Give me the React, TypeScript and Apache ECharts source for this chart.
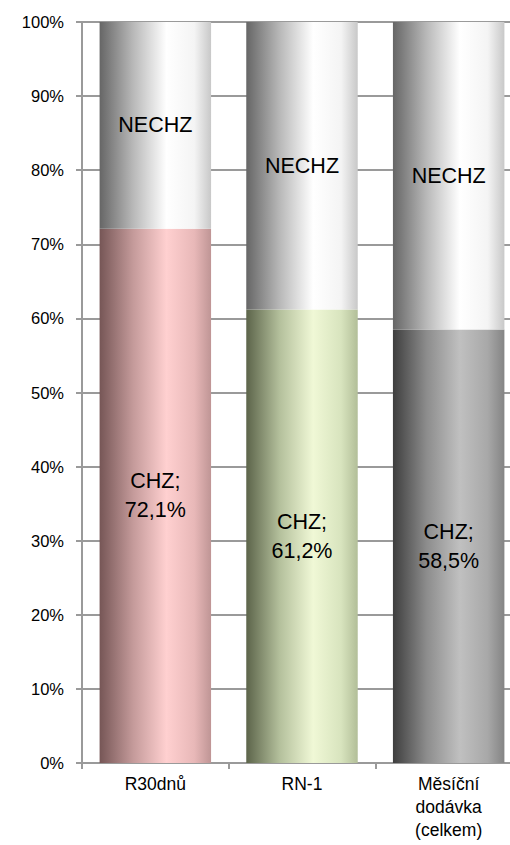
import React, { useEffect, useRef } from "react";
import * as echarts from "echarts";

const categories = ["R30dnů", "RN-1", "Měsíční\ndodávka\n(celkem)"];
const chzValues = [72.1, 61.2, 58.5];
const nechzValues = [27.9, 38.8, 41.5];
const yTicks = { min: 0, max: 100, interval: 10 };

const chzStops = [
  ["#765656", "#c49a9a", "#ffd0d0", "#e8b8b8", "#bf9595"],
  ["#5c644a", "#b4c09c", "#f0f8d6", "#d8e4be", "#b2be98"],
  ["#3e3e3e", "#8c8c8c", "#c0c0c0", "#a8a8a8", "#848484"],
];
const nechzStops = ["#666666", "#b8b8b8", "#ffffff", "#f4f4f4", "#c8c8c8"];

function grad(cols: string[]) {
  const offs = [0, 0.3, 0.6, 0.85, 1];
  return new echarts.graphic.LinearGradient(
    0, 0, 1, 0,
    cols.map((c, i) => ({ offset: offs[i], color: c }))
  );
}

const font = "'Liberation Sans', Arial, sans-serif";

export default function App() {
  const ref = useRef<HTMLDivElement>(null);
  useEffect(() => {
    if (!ref.current) return;
    const chart = echarts.init(ref.current, null, { renderer: "svg" });
    chart.setOption({
      animation: false,
      grid: { left: 82, right: 0, top: 22, bottom: 82 },
      xAxis: {
        type: "category",
        data: categories,
        axisLine: { show: true, lineStyle: { color: "#9a9a9a", width: 2 } },
        axisTick: { show: true, length: 6, lineStyle: { color: "#9a9a9a", width: 2 } },
        axisLabel: {
          color: "#000",
          fontFamily: font,
          fontSize: 17.5,
          lineHeight: 23,
          margin: 9,
        },
      },
      yAxis: {
        type: "value",
        min: yTicks.min,
        max: yTicks.max,
        interval: yTicks.interval,
        axisLine: { show: true, lineStyle: { color: "#9a9a9a", width: 2 } },
        axisTick: { show: true, length: 6, lineStyle: { color: "#9a9a9a", width: 2 } },
        splitLine: { show: true, lineStyle: { color: "#9a9a9a", width: 2 } },
        axisLabel: {
          color: "#000",
          fontFamily: font,
          fontSize: 16.5,
          margin: 18,
          formatter: "{value}%",
        },
      },
      series: [
        {
          name: "CHZ",
          type: "bar",
          stack: "total",
          barWidth: "76%",
          data: chzValues.map((v, i) => ({
            value: v,
            itemStyle: { color: grad(chzStops[i]) },
          })),
          label: {
            show: true,
            position: "inside",
            color: "#000",
            fontFamily: font,
            fontSize: 21.5,
            lineHeight: 29,
            formatter: (p: any) => "CHZ;\n" + p.value.toFixed(1).replace(".", ",") + "%",
          },
        },
        {
          name: "NECHZ",
          type: "bar",
          stack: "total",
          barWidth: "76%",
          data: nechzValues.map((v) => ({
            value: v,
            itemStyle: { color: grad(nechzStops) },
          })),
          label: {
            show: true,
            position: "inside",
            color: "#000",
            fontFamily: font,
            fontSize: 21.5,
            formatter: "NECHZ",
          },
        },
      ],
    });
    return () => chart.dispose();
  }, []);
  return (
    <div
      style={{
        position: "fixed",
        left: 0,
        top: 0,
        width: 510,
        height: 845,
        overflow: "hidden",
        background: "#fff",
      }}
    >
      <div ref={ref} style={{ width: 522, height: 845 }} />
    </div>
  );
}
